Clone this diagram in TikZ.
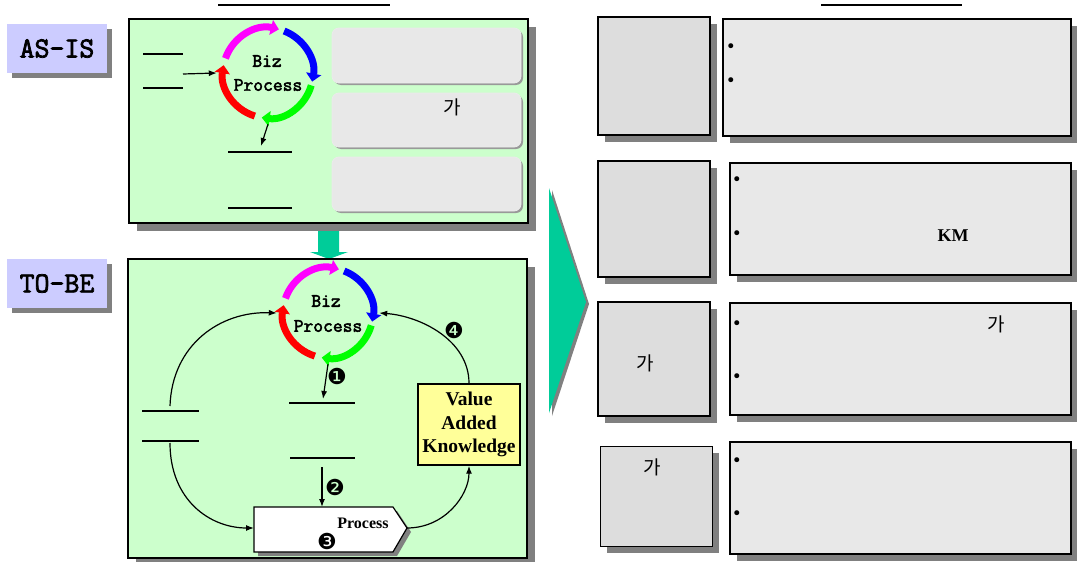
\documentclass[tikz,border=0pt]{standalone}
\usepackage{fontspec}
\newfontfamily\timesfnt{Liberation Serif}
\newfontfamily\krfnt{Noto Sans CJK KR}
\newfontfamily\dvfnt{DejaVu Sans}
\newfontfamily\courfnt[FakeBold=2.6]{Latin Modern Mono}
\usetikzlibrary{arrows.meta,shadows}
\definecolor{panelgreen}{HTML}{CCFFCC}
\definecolor{lav}{HTML}{CCCCFF}
\definecolor{shadowgray}{HTML}{808080}
\definecolor{tealc}{HTML}{00CC99}
\definecolor{boxgray}{HTML}{E8E8E8}
\definecolor{sboxgray}{HTML}{DDDDDD}
\definecolor{vakyellow}{HTML}{FFFF99}
\definecolor{cmag}{HTML}{FF00FF}
\definecolor{cblue}{HTML}{0000FF}
\definecolor{cgreen}{HTML}{00FF00}
\definecolor{cred}{HTML}{FF0000}
\tikzset{
  shad/.style={general shadow={fill=shadowgray, shadow xshift=#1, shadow yshift=-#1}},
  lbl/.style={fill=lav, minimum width=100pt, minimum height=49pt, inner sep=0pt, shad=5pt,
    font=\courfnt\fontsize{29}{32}\selectfont},
  panel/.style={fill=panelgreen, draw=black, line width=1.6pt, inner sep=0pt, shad=8pt},
  rbox/.style={fill=boxgray, draw=white!92!black, line width=0.8pt, rounded corners=7pt, inner sep=0pt,
    general shadow={fill=black!40, shadow xshift=2pt, shadow yshift=-2pt}},
  sbox/.style={fill=sboxgray, draw=black, line width=1.4pt, inner sep=0pt, shad=7pt},
  bbox/.style={fill=boxgray, draw=black, line width=1.4pt, inner sep=0pt, shad=7pt},
  tline/.style={line width=2pt},
  conn/.style={line width=1.2pt, -{Latex[length=8pt,width=6pt]}},
  cycarc/.style={line width=7pt, -{Triangle[length=8pt,width=15pt]}},
  biz/.style={font=\courfnt\fontsize{19}{22}\selectfont},
  kor/.style={font=\krfnt\fontsize{19}{22}\selectfont},
  num/.style={font=\dvfnt\fontsize{22}{24}\selectfont, inner sep=0pt},
  bul/.style={font=\dvfnt\fontsize{17}{19}\selectfont, inner sep=0pt},
  ring/.style={circle, minimum size=102pt, inner sep=0pt},
}
\begin{document}
\begin{tikzpicture}[x=1pt,y=-1pt]
\useasboundingbox (0,0) rectangle (1077,562);

% title lines
\draw[tline] (218,5) -- (390,5);
\draw[tline] (821,5) -- (962,5);

% labels
\node[lbl] (asis) at (57,48.5) {AS-IS};
\node[lbl] (tobe) at (57,283.5) {TO-BE};

% teal down arrow between panels
\fill[tealc] (318,224) -- (339,224) -- (339,252) -- (348,252) -- (329,259) -- (310,252) -- (318,252) -- cycle;

% panels
\node[panel, minimum width=399pt, minimum height=204pt] (p1) at (328.5,121) {};
\node[panel, minimum width=399pt, minimum height=299pt] (p2) at (327.5,408.5) {};

% ---------- AS-IS content ----------
\node[rbox, minimum width=189pt, minimum height=55pt] (r1) at (426.5,55.5) {};
\node[rbox, minimum width=189pt, minimum height=54pt] (r2) at (426.5,120) {};
\node[rbox, minimum width=189pt, minimum height=54pt] (r3) at (426.5,184) {};
\node[kor] (ga1) at (452,107) {가};

\draw[tline] (143,54) -- (183,54);
\draw[tline] (143,88) -- (183,88);
\coordinate (inA) at (183,74);

\node[ring] (cyc1) at (268,73) {};
\draw[cycarc, cmag]   ([shift={(199:45)}]cyc1.center) arc[start angle=199, end angle=284, radius=45];
\draw[cycarc, cblue]  ([shift={(291:45)}]cyc1.center) arc[start angle=291, end angle=371, radius=45];
\draw[cycarc, cgreen] ([shift={(16:45)}]cyc1.center)  arc[start angle=16,  end angle=98,  radius=45];
\draw[cycarc, cred]   ([shift={(107:45)}]cyc1.center) arc[start angle=107, end angle=190, radius=45];
\node[biz] (biz1) at (267,61) {Biz};
\node[biz] (proc1) at (268,85) {Process};
\draw[conn] (inA) -- (cyc1.west);
\coordinate (outA) at (261,146);
\draw[conn] (cyc1.south) -- (outA);

\draw[tline] (228,152) -- (292,152);
\draw[tline] (228,208) -- (292,208);

% ---------- TO-BE content ----------
\node[ring] (cyc2) at (328,313) {};
\draw[cycarc, cmag]   ([shift={(199:45)}]cyc2.center) arc[start angle=199, end angle=284, radius=45];
\draw[cycarc, cblue]  ([shift={(291:45)}]cyc2.center) arc[start angle=291, end angle=371, radius=45];
\draw[cycarc, cgreen] ([shift={(16:45)}]cyc2.center)  arc[start angle=16,  end angle=98,  radius=45];
\draw[cycarc, cred]   ([shift={(107:45)}]cyc2.center) arc[start angle=107, end angle=190, radius=45];
\node[biz] (biz2) at (326,301) {Biz};
\node[biz] (proc2) at (328,326) {Process};

\draw[tline] (142,411) -- (199,411);
\draw[tline] (142,441) -- (199,441);
\draw[tline] (289,403) -- (355,403);
\draw[tline] (290,458) -- (355,458);

\coordinate (l1) at (170,406);
\coordinate (l2) at (170,443);
\coordinate (m1) at (323,399);
\coordinate (m2) at (322,467);

% process pentagon
\fill[shadowgray] (258,511) -- (397,511) -- (411,532) -- (397,556) -- (258,556) -- cycle;
\draw[fill=white, line width=1.2pt] (254,507) -- (393,507) -- (407,528) -- (393,552) -- (254,552) -- cycle;
\coordinate (procW) at (254,528);
\coordinate (procE) at (407,528);
\coordinate (procN) at (322,507);
\node[font=\timesfnt\bfseries\fontsize{16}{18}\selectfont] (proct) at (363,523) {Process};

% value added knowledge
\node[fill=vakyellow, draw=black, line width=1.4pt, minimum width=102pt, minimum height=81pt, inner sep=0pt,
      align=center, font=\timesfnt\bfseries\fontsize{19.5}{23.5}\selectfont] (vak) at (469,424.5)
      {Value\\Added\\Knowledge};

% connectors
\draw[conn] (cyc2.south) -- (m1);
\draw[conn] (m2) -- (procN);
\draw[conn] (l1) .. controls (172,345) and (220,311) .. (cyc2.west);
\draw[conn] (l2) .. controls (170,500) and (210,528) .. (procW);
\draw[conn] (procE) .. controls (445,528) and (469,495) .. (vak.south);
\draw[conn] (vak.north) .. controls (469,340) and (420,316) .. (cyc2.east);

\node[num] (n1) at (337,376) {❶};
\node[num] (n2) at (335,487) {❷};
\node[num] (n3) at (327,541) {❸};
\node[num] (n4) at (454,330) {❹};

% ---------- big arrow ----------
\fill[shadowgray] (552,190) -- (589,304) -- (552,416) -- cycle;
\fill[tealc] (549,188) -- (586,302) -- (549,413) -- cycle;

% ---------- right boxes ----------
\node[sbox, minimum width=112pt, minimum height=118pt] (s1) at (654,76) {};
\node[bbox, minimum width=348pt, minimum height=117pt] (b1) at (897,77.5) {};
\node[sbox, minimum width=112pt, minimum height=116pt] (s2) at (654,219) {};
\node[bbox, minimum width=341pt, minimum height=112pt] (b2) at (900.5,219) {};
\node[sbox, minimum width=112pt, minimum height=114pt] (s3) at (654,359) {};
\node[bbox, minimum width=341pt, minimum height=112pt] (b3) at (900.5,359) {};
\node[sbox, line width=1pt, minimum width=112pt, minimum height=100pt] (s4) at (656,496) {};
\node[bbox, minimum width=341pt, minimum height=112pt] (b4) at (900.5,498) {};

\node[bul] (u11) at (731,48) {•};
\node[bul] (u12) at (731,82) {•};
\node[bul] (u21) at (737,181) {•};
\node[bul] (u22) at (737,235) {•};
\node[bul] (u31) at (737,325) {•};
\node[bul] (u32) at (737,378) {•};
\node[bul] (u41) at (737,462) {•};
\node[bul] (u42) at (737,515) {•};

\node[font=\timesfnt\bfseries\fontsize{18}{20}\selectfont] (km) at (953,236) {KM};
\node[kor] (ga2) at (996,324) {가};
\node[kor] (ga3) at (645,363) {가};
\node[kor] (ga4) at (652,467) {가};
\end{tikzpicture}
\end{document}
